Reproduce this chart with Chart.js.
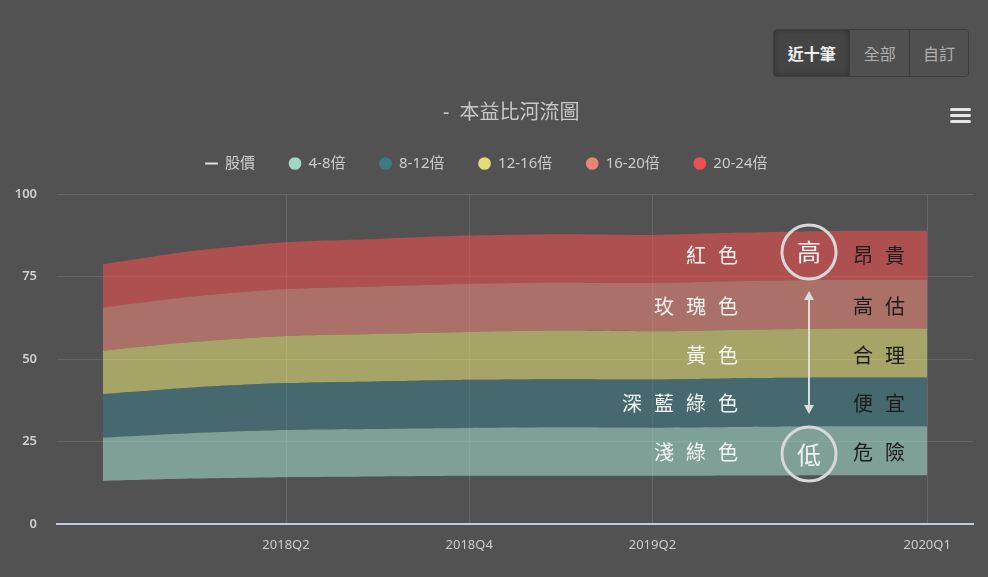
<!DOCTYPE html>
<html>
<head>
<meta charset="utf-8">
<script src="https://cdn.jsdelivr.net/npm/chart.js@4.4.0/dist/chart.umd.min.js"></script>
<style>
  body { margin: 0; background: #525252; }
  #wrap { position: relative; width: 988px; height: 577px; background: #525252; font-family: 'Noto Sans', 'Noto Sans CJK TC', sans-serif; }
  #c { position: absolute; left: 0; top: 0; }
  .btns { position: absolute; left: 773px; top: 29px; width: 196px; height: 48px; display: flex; border: 1px solid #3d3d3d; border-radius: 4px; overflow: hidden; box-sizing: border-box; }
  .btns div { display: flex; align-items: center; justify-content: center; font-size: 16px; color: #b0b0b0; background: #505050; border-left: 1px solid #3d3d3d; }
  .btns div.on { background: #454545; color: #f0f0f0; font-weight: bold; border-left: none; box-shadow: inset 0 0 6px rgba(0,0,0,0.35); }
  .title { position: absolute; left: 443px; top: 96px; font-size: 20px; color: #c8c8c8; white-space: nowrap; }
  .title span { margin-right: 10px; }
  .menu { position: absolute; left: 950px; top: 108px; width: 21px; }
  .menu span { display: block; height: 3px; background: #e6e6e6; border-radius: 2px; margin-bottom: 3px; }
  .lab { position: absolute; font-family: 'Noto Sans CJK TC', sans-serif; font-size: 20px; letter-spacing: 12px; line-height: 24px; white-space: nowrap; }
  .left { right: 250px; color: #f4f4f4; margin-right: -12px; }
  .right { left: 853px; color: #1c1c1c; }
  svg { position: absolute; left: 0; top: 0; pointer-events: none; }
</style>
</head>
<body>
<div id="wrap">
  <canvas id="c" width="988" height="577"></canvas>
  <div class="btns">
    <div class="on" style="width:77px">近十筆</div>
    <div style="width:60px">全部</div>
    <div style="width:59px">自訂</div>
  </div>
  <div class="title"><span>-</span>本益比河流圖</div>
  <div class="menu"><span></span><span></span><span></span></div>
  <div id="labels"></div>
  <svg width="988" height="577">
    <circle cx="809" cy="252" r="27" fill="none" stroke="#d8d8d8" stroke-width="3"/>
    <circle cx="809" cy="454" r="27" fill="none" stroke="#d8d8d8" stroke-width="3"/>
    <text x="809" y="261" text-anchor="middle" font-size="24" fill="#f4f4f4" font-family="Noto Sans CJK TC">高</text>
    <text x="809" y="464" text-anchor="middle" font-size="24" fill="#f4f4f4" font-family="Noto Sans CJK TC">低</text>
    <line x1="809" y1="298" x2="809" y2="406" stroke="#dcdcdc" stroke-width="2"/>
    <polygon points="809,291 804,300 814,300" fill="#dcdcdc"/>
    <polygon points="809,414 804,405 814,405" fill="#dcdcdc"/>
  </svg>
</div>
<script>
// quarters on the x axis
const quarters = ['2017Q4', '2018Q1', '2018Q2', '2018Q3', '2018Q4', '2019Q1', '2019Q2', '2019Q3', '2019Q4', '2020Q1'];
const tickQuarters = ['2018Q2', '2018Q4', '2019Q2', '2020Q1'];
const yTicks = [0, 25, 50, 75, 100];

// stock price (no points shown)
const price = [];

// band edges (PE x4 ... x24)
const pe4  = [13.1, 13.8, 14.2, 14.4, 14.6, 14.6, 14.6, 14.7, 14.8, 14.8];
const pe8  = [26.2, 27.6, 28.5, 28.8, 29.1, 29.3, 29.2, 29.4, 29.6, 29.6];
const pe12 = [39.4, 41.4, 42.7, 43.2, 43.7, 43.9, 43.8, 44.2, 44.4, 44.4];
const pe16 = [52.5, 55.2, 57.0, 57.6, 58.2, 58.6, 58.4, 58.9, 59.2, 59.2];
const pe20 = [65.6, 69.0, 71.2, 72.0, 72.8, 73.2, 73.0, 73.6, 74.0, 74.0];
const pe24 = [78.7, 82.8, 85.4, 86.4, 87.4, 87.8, 87.6, 88.3, 88.8, 88.8];

const bandNames = ['4-8倍', '8-12倍', '12-16倍', '16-20倍', '20-24倍'];
const bandColors = ['#9fd6c4', '#3e7a82', '#e1dc78', '#e88576', '#ee5050'];
const bandFills = ['rgba(159,214,196,0.6)', 'rgba(62,122,130,0.6)', 'rgba(225,220,120,0.6)', 'rgba(232,133,118,0.6)', 'rgba(238,80,80,0.6)'];

const colorNames = ['淺綠色', '深藍綠色', '黃色', '玫瑰色', '紅色'];
const valueNames = ['危險', '便宜', '合理', '高估', '昂貴'];

// side labels over the bands
const labelBox = document.getElementById('labels');
const rowY = [440, 391, 343, 294, 243];
colorNames.forEach((t, i) => {
    const a = document.createElement('div');
    a.className = 'lab left';
    a.style.top = rowY[i] + 'px';
    a.textContent = t;
    labelBox.appendChild(a);
    const b = document.createElement('div');
    b.className = 'lab right';
    b.style.top = rowY[i] + 'px';
    b.textContent = valueNames[i];
    labelBox.appendChild(b);
});

const pts = arr => arr.map((y, i) => ({ x: i, y }));
const uppers = [pe8, pe12, pe16, pe20, pe24];

const datasets = [
    { label: '股價', data: pts(price), borderColor: '#e0e0e0', backgroundColor: '#e0e0e0', borderWidth: 2, pointStyle: 'line', fill: false },
    { label: 'base', data: pts(pe4), borderWidth: 0, pointRadius: 0, tension: 0.25, fill: false }
];
uppers.forEach((arr, i) => {
    datasets.push({
        label: bandNames[i],
        data: pts(arr),
        backgroundColor: bandColors[i],
        borderColor: bandColors[i],
        borderWidth: 0,
        pointRadius: 0,
        pointStyle: 'circle',
        tension: 0.25,
        fill: { target: '-1', above: bandFills[i], below: bandFills[i] }
    });
});

const tickIdx = tickQuarters.map(q => quarters.indexOf(q));

new Chart(document.getElementById('c'), {
    type: 'line',
    data: { datasets },
    options: {
        responsive: false,
        animation: false,
        layout: { padding: { top: 122, right: 15, bottom: 0, left: 0 } },
        plugins: {
            title: { display: false },
            tooltip: { enabled: false },
            legend: {
                labels: {
                    usePointStyle: true,
                    boxWidth: 12,
                    boxHeight: 9,
                    padding: 34,
                    color: '#cccccc',
                    font: { size: 15, family: "'Noto Sans', 'Noto Sans CJK TC', sans-serif" },
                    filter: item => item.text !== 'base'
                }
            }
        },
        scales: {
            x: {
                type: 'linear',
                min: -0.5,
                max: 9.5,
                afterFit: s => { s.height = 53; },
                afterBuildTicks: s => { s.ticks = tickIdx.map(v => ({ value: v })); },
                grid: { color: '#666666', drawTicks: false },
                border: { display: true, color: '#c4cce0', width: 2 },
                ticks: {
                    autoSkip: false,
                    maxRotation: 0,
                    padding: 13,
                    color: '#cccccc',
                    font: { size: 13, family: "'Noto Sans', sans-serif" },
                    callback: v => quarters[v]
                }
            },
            y: {
                min: 0,
                max: 100,
                afterFit: s => { s.width = 57; },
                afterBuildTicks: s => { s.ticks = yTicks.map(v => ({ value: v })); },
                grid: { color: '#676767', drawTicks: false },
                border: { display: false },
                ticks: {
                    padding: 20,
                    color: '#d0d0d0',
                    font: { size: 13, weight: '600', family: "'Noto Sans', sans-serif" }
                }
            }
        }
    },
    plugins: [{
        id: 'legendGap',
        beforeInit(chart) {
            const fit = chart.legend.fit;
            chart.legend.fit = function () {
                fit.bind(chart.legend)();
                this.height += 13;
            };
        }
    }]
});
</script>
</body>
</html>
